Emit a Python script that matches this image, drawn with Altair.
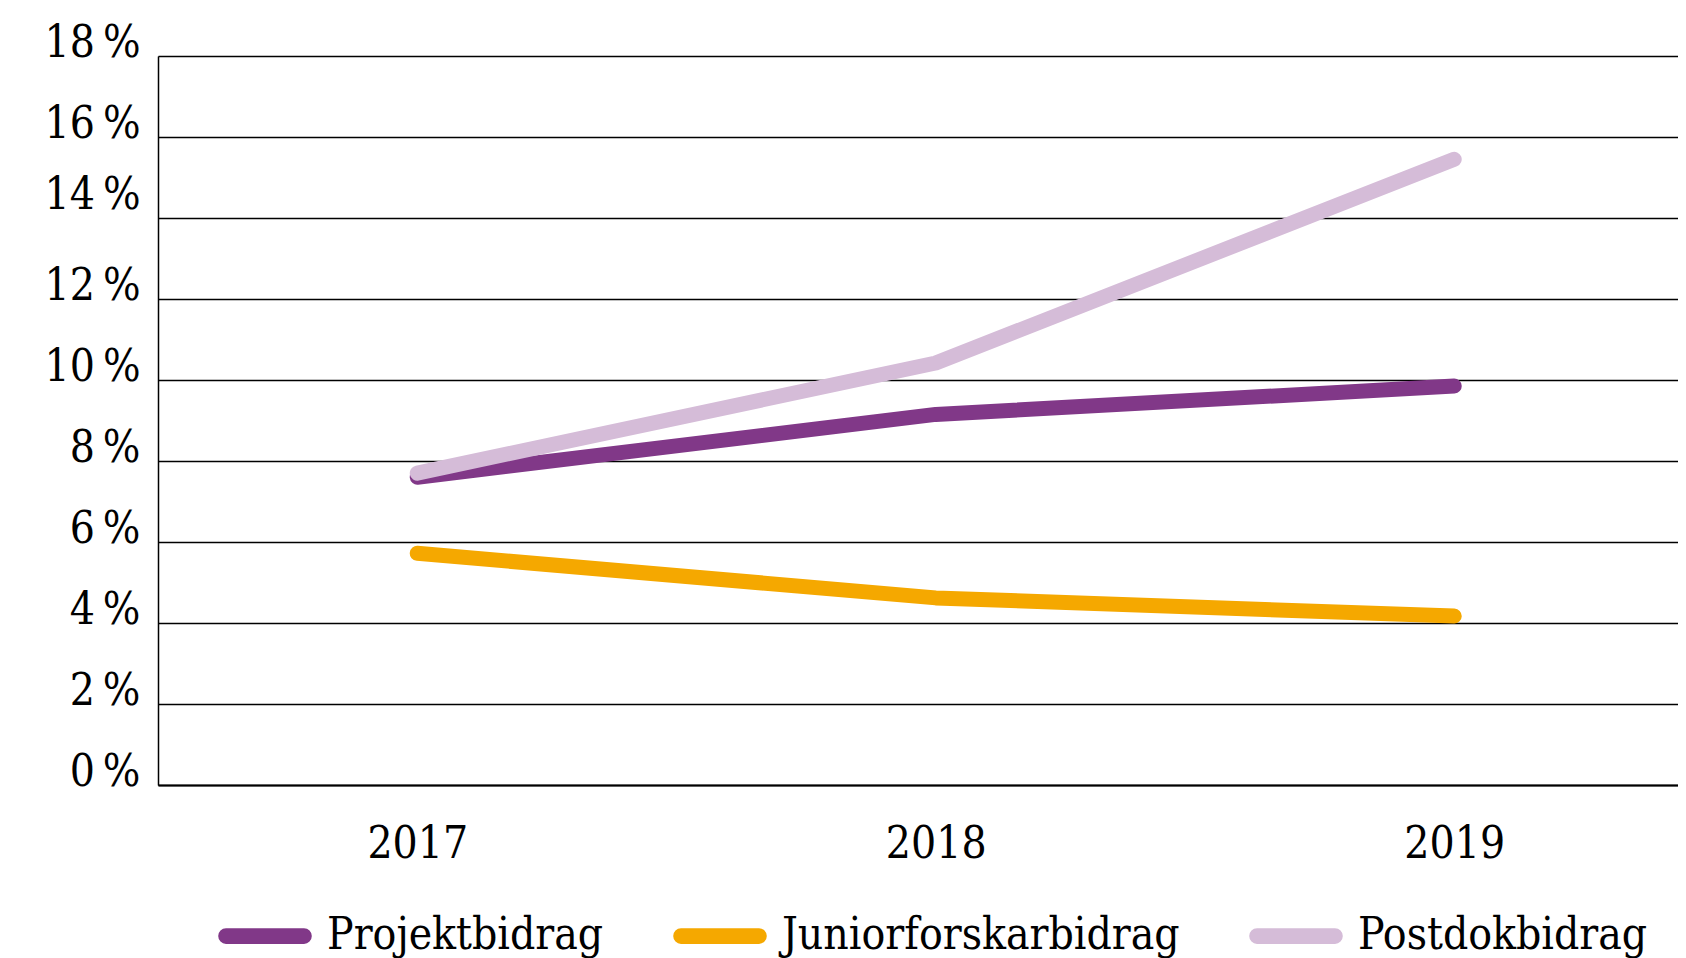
import altair as alt
import pandas as pd

years = [2017, 2018, 2019]
series = ["Projektbidrag", "Juniorforskarbidrag", "Postdokbidrag"]
projekt = [7.6, 9.15, 9.85]
junior = [5.72, 4.62, 4.17]
postdok = [7.7, 10.42, 15.45]
colors = ["#813888", "#f5a800", "#d5bcd8"]
y_ticks = [0, 2, 4, 6, 8, 10, 12, 14, 16, 18]

rows = []
for name, vals in zip(series, [projekt, junior, postdok]):
    for yr, v in zip(years, vals):
        rows.append({"year": yr, "series": name, "value": v})
df = pd.DataFrame(rows)

FONT = "DejaVu Serif Condensed"

# rounded "pill" outline used as legend symbol (normalized -1..1 box)
PILL = ("M-0.8667,-0.04 L0.8667,-0.04 A0.04,0.04 0 0 1 0.8667,0.04 "
        "L-0.8667,0.04 A0.04,0.04 0 0 1 -0.8667,-0.04 Z")

chart = alt.Chart(df).mark_line(strokeWidth=15, strokeCap="round", strokeJoin="round").encode(
    x=alt.X("year:Q",
            scale=alt.Scale(domain=[2016.5, 2019.4316], nice=False, zero=False),
            axis=alt.Axis(values=years, format="d", title=None, grid=False, ticks=False,
                          domain=True, domainColor="black", domainWidth=2,
                          labelFont=FONT, labelFontSize=44, labelColor="black",
                          labelBaseline="alphabetic", labelPadding=72, labelFlush=False)),
    y=alt.Y("value:Q",
            scale=alt.Scale(domain=[0, 18], nice=False),
            axis=alt.Axis(values=y_ticks, title=None, ticks=False, grid=True,
                          gridColor="black", gridWidth=1.5, gridOpacity=1,
                          domain=True, domainColor="black", domainWidth=1.5,
                          labelExpr="datum.value + '\u2009%'",
                          labelFont=FONT, labelFontSize=44, labelColor="black",
                          labelBaseline="alphabetic", labelPadding=18,
                          labelOffset=alt.ConditionalAxisNumber(
                              condition={"test": "datum.value == 14", "value": -10}, value=0),
                          labelFlush=False)),
    color=alt.Color("series:N",
                    scale=alt.Scale(domain=series, range=colors),
                    sort=series,
                    legend=alt.Legend(title=None, orient="none", direction="horizontal",
                                      legendX=56, legendY=829,
                                      symbolType=PILL, symbolSize=8100,
                                      symbolStrokeWidth=12,
                                      labelFont=FONT, labelFontSize=44, labelColor="black",
                                      labelOffset=11, columnPadding=51, padding=0,
                                      labelLimit=600)),
    order=alt.Order("year:Q"),
).properties(
    width=1520, height=729,
    padding={"left": 150, "top": 48, "right": 0, "bottom": 173},
    autosize=alt.AutoSizeParams(type="none"),
).configure_view(stroke=None).configure(background="white")

chart.save("out.html", embed_options={"renderer": "svg", "actions": False})
